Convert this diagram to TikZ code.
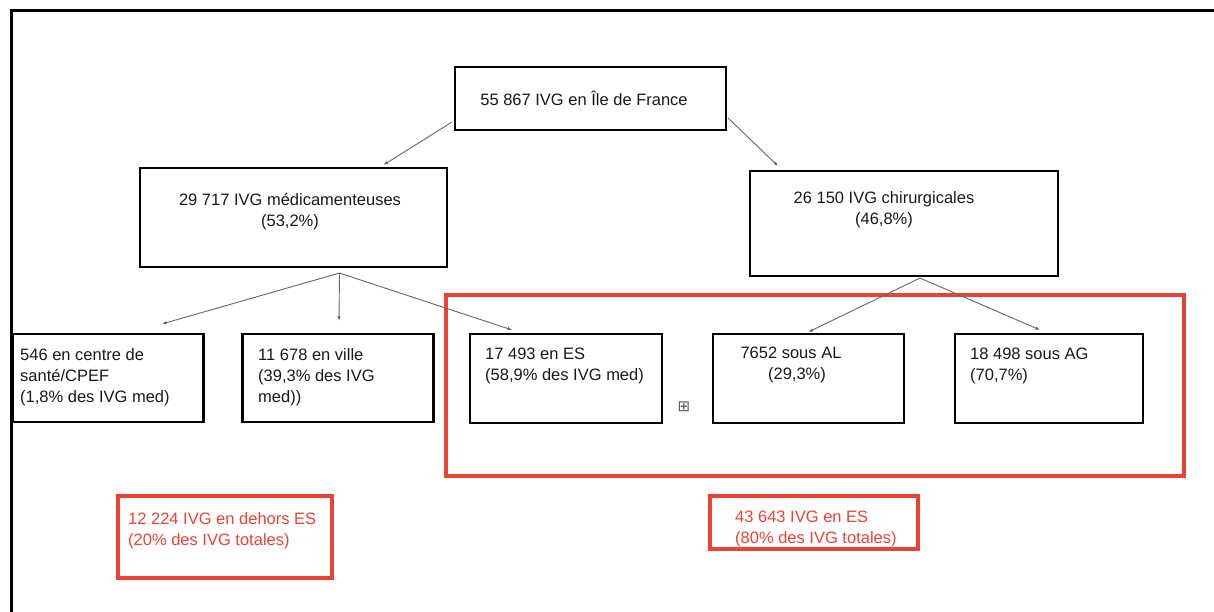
\documentclass[tikz,border=0pt]{standalone}
\usepackage{fontspec}
\setmainfont{Liberation Sans}
\newfontfamily\symfont{DejaVu Sans}
\usetikzlibrary{arrows.meta}
\definecolor{ivgred}{RGB}{234,67,52}

\begin{document}
\begin{tikzpicture}[x = 1pt, y = -1pt,
        every node/.style = {font = \fontsize{16.5}{21}\selectfont, text = black!90, inner sep = 0pt},
        box/.style = {draw, line width = 2.1pt},
        redbox/.style = {draw = ivgred, line width = 3.2pt},
        txt/.style = {anchor = west, align = left},
        link/.style = {-{Latex[length = 4.5pt, width = 3.5pt]}, draw = black!60, line width = 0.9pt}]

        \useasboundingbox (0, 0) rectangle (1214, 612);
        \draw [line width = 3pt] (11, 612) -- (11, 11) -- (1214, 11);

        \node (top) at (590.5, 98.5) [box, minimum width = 271, minimum height = 63] {};
        \node (med) at (293.5, 217.5) [box, minimum width = 307, minimum height = 99] {};
        \node (chir) at (904, 223.5) [box, minimum width = 308, minimum height = 105] {};

        \node (b1) at (108, 378) [box, minimum width = 191, minimum height = 88] {};
        \node (b2) at (338, 378) [box, minimum width = 191, minimum height = 88] {};
        \node (b3) at (566, 378.5) [box, minimum width = 192, minimum height = 89] {};
        \node (b4) at (808.5, 378.5) [box, minimum width = 191, minimum height = 89] {};
        \node (b5) at (1049, 378.5) [box, minimum width = 188, minimum height = 89] {};

        \node (es) at (815, 385.5) [redbox, minimum width = 738, minimum height = 181] {};
        \node (r1) at (225, 537) [redbox, minimum width = 214, minimum height = 82] {};
        \node (r2) at (814, 522.5) [redbox, minimum width = 208, minimum height = 53] {};

        \node (ttop) at (584, 98) {55 867 IVG en Île de France};
        \node (tmed) at (290, 212) [align = center] {29 717 IVG médicamenteuses\\(53,2\%)};
        \node (tchir) at (884, 210) [align = center] {26 150 IVG chirurgicales\\(46,8\%)};
        \node (tb1) at (20, 377) [txt] {546 en centre de\\santé/CPEF\\(1,8\% des IVG med)};
        \node (tb2) at (258, 377) [txt] {11 678 en ville\\(39,3\% des IVG\\med))};
        \node (tb3) at (485, 366) [txt] {17 493 en ES\\(58,9\% des IVG med)};
        \node (tb4) at (791, 365) [align = center] {7652 sous AL\\\hspace*{12pt}(29,3\%)};
        \node (tb5) at (970, 366) [txt] {18 498 sous AG\\(70,7\%)};
        \node (tr1) at (128, 531) [txt, text = ivgred] {12 224 IVG en dehors ES\\(20\% des IVG totales)};
        \node (tr2) at (735, 528.5) [txt, text = ivgred] {43 643 IVG en ES\\(80\% des IVG totales)};
        \node (plus) at (684, 407) [text = black!65, font = \symfont\fontsize{15}{15}\selectfont] {⊞};

        \draw [link] ([xshift = -2pt, yshift = 9pt]top.south west) -- ([xshift = 90pt, yshift = 2pt]med.north);
        \draw [link] ([xshift = 1pt, yshift = 13pt]top.south east) -- ([xshift = -126pt, yshift = 4pt]chir.north);

        \draw [link] ([xshift = 46pt, yshift = -5pt]med.south) -- ([xshift = 54pt, yshift = 9pt]b1.north);
        \draw [link] ([xshift = 46pt, yshift = -5pt]med.south) -- ([xshift = 1pt, yshift = 12pt]b2.north);
        \draw [link] ([xshift = 46pt, yshift = -5pt]med.south) -- ([xshift = -54pt, yshift = 3pt]b3.north);

        \draw [link] ([xshift = 16pt, yshift = -1pt]chir.south) -- ([yshift = 1pt]b4.north);
        \draw [link] ([xshift = 16pt, yshift = -1pt]chir.south) -- ([xshift = -9pt, yshift = 3pt]b5.north);

    \end{tikzpicture}
\end{document}
